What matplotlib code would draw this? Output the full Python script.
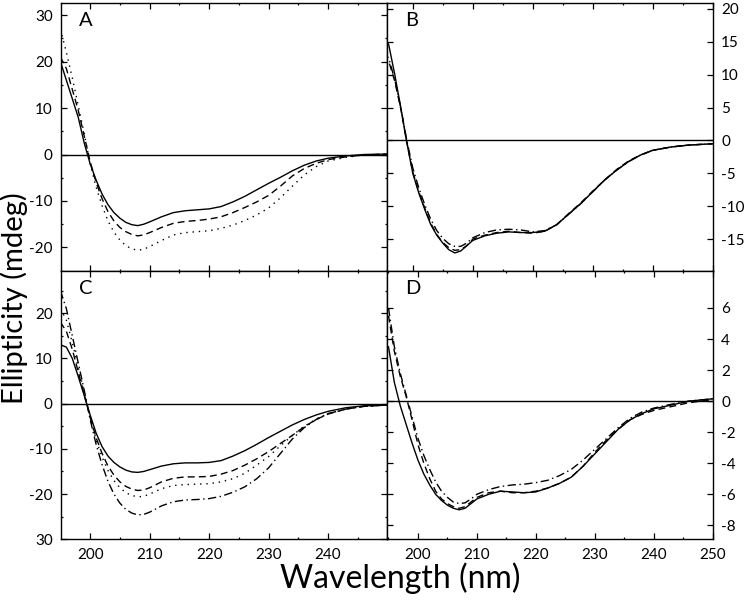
import matplotlib
matplotlib.use("Agg")
import matplotlib.pyplot as plt
from matplotlib.ticker import MultipleLocator, FixedLocator

plt.rcParams["font.family"] = ["Lato", "DejaVu Sans"]
plt.rcParams["axes.unicode_minus"] = False

# wavelength grid (nm)
wl = [195, 196, 197, 198, 199, 200, 201, 202, 203, 204, 205, 206, 207, 208, 209, 210,
      212, 214, 216, 218, 220, 222, 224, 226, 228, 230, 232, 234, 236, 238, 240, 243, 246, 250]

# panel A
a_solid = [20, 16, 12, 8, 2.5, -2, -5.5, -8.5, -10.8, -12.5, -13.7, -14.6, -15.1, -15.3, -15.0, -14.5,
           -13.4, -12.5, -12.1, -11.9, -11.7, -11.2, -10.2, -9.0, -7.6, -6.2, -4.9, -3.5, -2.3, -1.4, -0.8, -0.3, 0.0, 0.1]
a_dash = [21, 18.5, 14, 9.5, 4, -1.5, -6, -9.5, -12.3, -14.3, -15.7, -16.6, -17.2, -17.5, -17.3, -16.8,
          -15.7, -14.8, -14.4, -14.2, -13.9, -13.4, -12.5, -11.4, -10.2, -8.8, -6.8, -4.6, -3.0, -1.9, -1.1, -0.5, -0.1, 0.1]
a_dot = [27, 22, 16.5, 10.5, 4.5, -2, -7, -11, -14.3, -16.7, -18.4, -19.6, -20.3, -20.6, -20.4, -19.8,
         -18.5, -17.3, -16.8, -16.6, -16.4, -15.9, -15.2, -14.2, -13.0, -11.5, -9.3, -6.8, -4.4, -2.6, -1.4, -0.6, -0.1, 0.1]

# panel B
b_solid = [16.5, 14.5, 10, 5, -0.3, -5, -8, -10.5, -12.8, -14.4, -15.6, -16.6, -17.1, -16.8, -16.0, -15.2,
           -14.5, -14.1, -13.9, -14.0, -14.0, -13.8, -12.8, -11.2, -9.6, -7.8, -6.0, -4.5, -3.2, -2.2, -1.5, -1.0, -0.7, -0.5]
b_dash = [13, 12, 9, 4.8, -0.2, -4.8, -7.8, -10.3, -12.6, -14.3, -15.5, -16.3, -16.7, -16.6, -16.0, -15.0,
          -14.4, -14.0, -13.8, -14.0, -14.1, -13.8, -12.8, -11.1, -9.5, -7.7, -6.0, -4.4, -3.1, -2.2, -1.5, -1.0, -0.7, -0.5]
b_dashdot = [13.5, 12.5, 9.2, 5, 0, -4.2, -7.2, -9.8, -12.0, -13.7, -14.9, -15.7, -16.1, -16.1, -15.6, -14.8,
             -14.0, -13.6, -13.5, -13.6, -13.9, -13.7, -12.8, -11.2, -9.6, -7.8, -6.0, -4.5, -3.2, -2.2, -1.5, -1.0, -0.7, -0.5]

# panel C
c_solid = [13.0, 12.5, 10, 6, 1.8, -2.5, -6.5, -9.5, -11.6, -13.0, -14.0, -14.7, -15.1, -15.2, -15.0, -14.6,
           -13.8, -13.3, -13.1, -13.1, -13.0, -12.6, -11.6, -10.4, -9.0, -7.5, -6.1, -4.7, -3.5, -2.5, -1.7, -0.9, -0.5, -0.3]
c_dash = [18, 16, 12, 7, 2, -3, -7.5, -11, -13.8, -15.8, -17.3, -18.3, -18.9, -19.2, -19.1, -18.6,
          -17.3, -16.5, -16.2, -16.2, -16.1, -15.6, -14.8, -13.6, -12.2, -10.6, -8.8, -7.0, -5.1, -3.5, -2.3, -1.2, -0.6, -0.3]
c_dot = [21, 18.5, 13.5, 8, 2.5, -3, -8, -11.8, -14.8, -17, -18.6, -19.7, -20.3, -20.6, -20.5, -20.0,
         -18.8, -18.1, -17.9, -17.8, -17.7, -17.3, -16.6, -15.4, -13.6, -11.7, -9.3, -7.0, -5.0, -3.4, -2.2, -1.2, -0.6, -0.3]
c_dashdot = [25, 21, 15, 9, 3, -3.5, -9, -13.5, -17.2, -20.0, -22.0, -23.4, -24.2, -24.6, -24.5, -24.0,
             -22.6, -21.7, -21.3, -21.2, -21.0, -20.5, -19.6, -18.4, -16.6, -14.2, -11.0, -7.8, -5.3, -3.5, -2.2, -1.2, -0.6, -0.3]

# panel D
d_solid = [3.5, 1.2, -0.3, -1.5, -2.7, -3.8, -4.7, -5.4, -6.0, -6.4, -6.7, -6.9, -7.0, -6.9, -6.6, -6.3,
           -6.0, -5.8, -5.85, -5.9, -5.85, -5.6, -5.3, -4.9, -4.2, -3.4, -2.6, -1.8, -1.2, -0.8, -0.5, -0.25, 0.0, 0.15]
d_dash = [5.5, 3.2, 1.6, 0.3, -1.2, -2.8, -4.0, -5.0, -5.8, -6.3, -6.6, -6.8, -6.9, -6.8, -6.5, -6.2,
          -5.9, -5.8, -5.9, -5.9, -5.8, -5.6, -5.3, -4.9, -4.2, -3.3, -2.5, -1.8, -1.2, -0.85, -0.6, -0.35, -0.1, 0.1]
d_dashdot = [6, 3.5, 1.8, 0.4, -1.0, -2.4, -3.5, -4.4, -5.2, -5.8, -6.2, -6.5, -6.6, -6.55, -6.3, -6.0,
             -5.7, -5.5, -5.4, -5.35, -5.25, -5.1, -4.8, -4.4, -3.8, -3.1, -2.4, -1.7, -1.1, -0.7, -0.45, -0.2, 0.0, 0.15]

x_ticks = [200, 210, 220, 230, 240, 250]
a_yticks = [-20, -10, 0, 10, 20, 30]
b_yticks = [-15, -10, -5, 0, 5, 10, 15, 20]
c_yticks = [-30, -20, -10, 0, 10, 20]
c_yticklabels = ["30", "-20", "-10", "0", "10", "20"]
d_yticks = [-8, -6, -4, -2, 0, 2, 4, 6]

STYLES = {
    "solid": dict(linestyle="-"),
    "dash": dict(dashes=(5, 3)),
    "dot": dict(dashes=(1, 3.5)),
    "dashdot": dict(dashes=(6, 2.5, 1, 2.5)),
}

fig = plt.figure(figsize=(7.45, 6.03), dpi=100)
W, H = 745, 603
x0, xm, x1 = 61, 387, 712.7
y0, ym, y1 = 3, 270.7, 539.3


def make_ax(l, r, t, b):
    return fig.add_axes([l / W, 1 - b / H, (r - l) / W, (b - t) / H])


axA = make_ax(x0, xm, y0, ym)
axB = make_ax(xm, x1, y0, ym)
axC = make_ax(x0, xm, ym, y1)
axD = make_ax(xm, x1, ym, y1)

panels = [
    (axA, "A", (195.1, 249.9), (-25, 32.6), [("solid", a_solid), ("dash", a_dash), ("dot", a_dot)]),
    (axB, "B", (195.7, 250), (-19.8, 20.9), [("solid", b_solid), ("dash", b_dash), ("dashdot", b_dashdot)]),
    (axC, "C", (195.1, 249.9), (-30, 29.4), [("solid", c_solid), ("dash", c_dash), ("dot", c_dot), ("dashdot", c_dashdot)]),
    (axD, "D", (194.75, 250), (-8.9, 8.4), [("solid", d_solid), ("dash", d_dash), ("dashdot", d_dashdot)]),
]

for ax, letter, xl, yl, curves in panels:
    for style, vals in curves:
        ax.plot(wl, vals, color="black", lw=1.0, **STYLES[style])
    ax.axhline(0, color="black", lw=1.0)
    ax.set_xlim(*xl)
    ax.set_ylim(*yl)
    ax.xaxis.set_major_locator(FixedLocator(x_ticks))
    ax.xaxis.set_minor_locator(MultipleLocator(5))
    ax.tick_params(which="both", direction="in", top=True, bottom=True, left=True, right=True,
                   labelsize=11, pad=6, width=0.9)
    ax.tick_params(which="major", length=4)
    ax.tick_params(which="minor", length=1.5)
    for sp in ax.spines.values():
        sp.set_linewidth(1.0)
    ax.text(0.055, 0.965, letter, transform=ax.transAxes, fontsize=14.5, va="top", ha="left")

axA.set_yticks(a_yticks)
axA.yaxis.set_minor_locator(MultipleLocator(5))
axA.tick_params(labelbottom=False)

axB.set_yticks(b_yticks)
axB.tick_params(labelbottom=False, labelleft=False, labelright=True)

axC.set_yticks(c_yticks)
axC.set_yticklabels(c_yticklabels)
axC.yaxis.set_minor_locator(MultipleLocator(5))
axC.set_xticks([200, 210, 220, 230, 240])

axD.set_yticks(d_yticks)
axD.tick_params(labelleft=False, labelright=True)

fig.text(400 / W, 1 - 588 / H, "Wavelength (nm)", fontsize=23, ha="center", va="baseline")
fig.text(14 / W, 1 - 298 / H, "Ellipticity (mdeg)", fontsize=21, ha="center", va="center",
         rotation=90)

fig.savefig("out.png", dpi=100)
